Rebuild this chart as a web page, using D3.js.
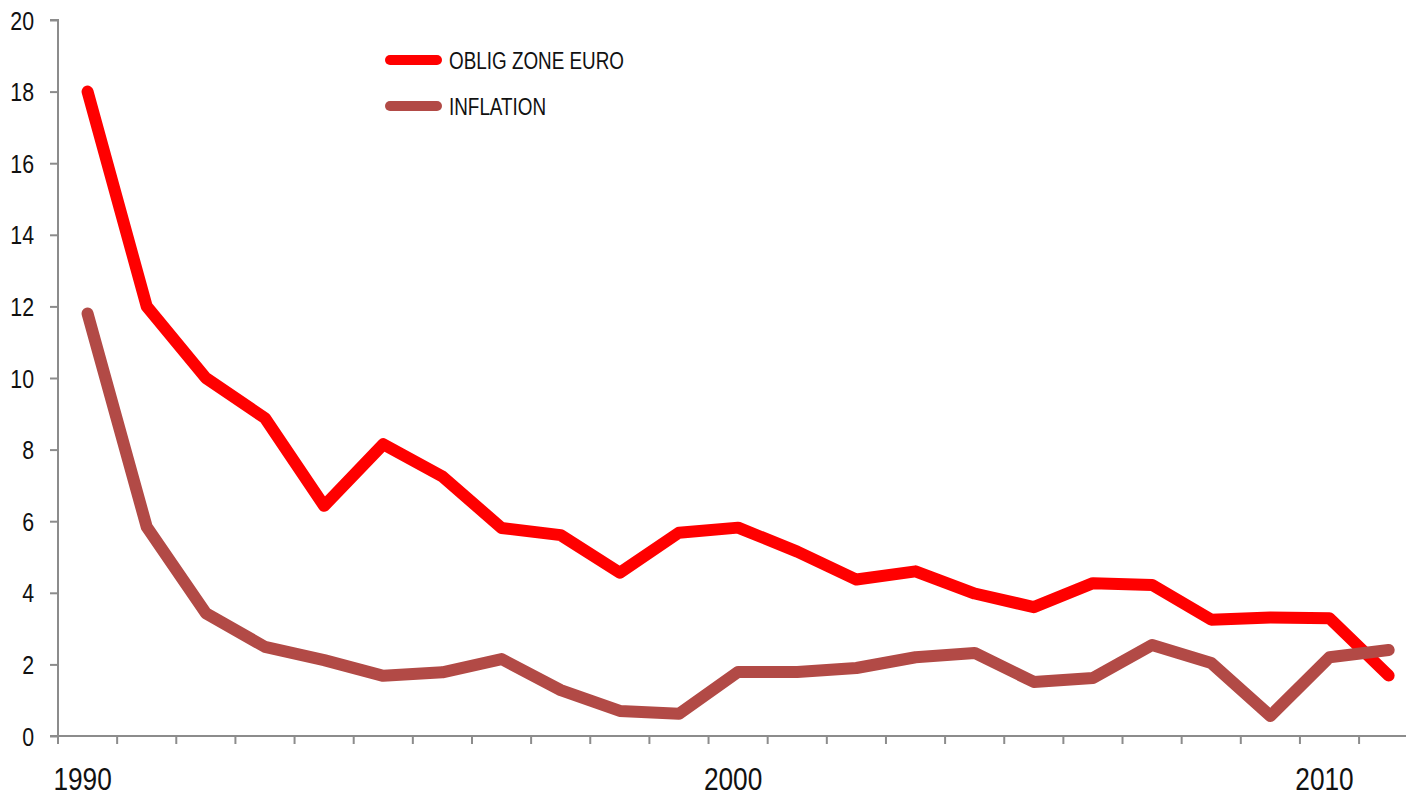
<!DOCTYPE html>
<html>
<head>
<meta charset="utf-8">
<script src="https://cdn.jsdelivr.net/npm/d3@7"></script>
<style>
  html, body { margin: 0; padding: 0; background: #fff; }
  svg { display: block; }
  text { font-family: "Liberation Sans", Arial, sans-serif; fill: #111; }
</style>
</head>
<body>
<svg id="chart" width="1406" height="796"></svg>
<script>
(function () {
// ---- data ----
const periods = d3.range(23); // 23 annual observations
const xTickLabels = ["1990","","","","","","","","","","","2000","","","","","","","","","","2010",""];
const obligZoneEuro = [18.0, 12.0, 10.0, 8.88, 6.43, 8.15, 7.25, 5.81, 5.61, 4.56, 5.68, 5.82, 5.15, 4.37, 4.6, 3.98, 3.6, 4.27, 4.22, 3.25, 3.31, 3.29, 1.69];
const inflation = [11.8, 5.84, 3.43, 2.49, 2.12, 1.68, 1.78, 2.15, 1.28, 0.7, 0.62, 1.79, 1.79, 1.9, 2.2, 2.32, 1.51, 1.62, 2.54, 2.04, 0.56, 2.2, 2.4];
const seriesNames = ["OBLIG ZONE EURO", "INFLATION"];
const seriesColors = ["#ff0000", "#b24a46"];
const yTicks = [0, 2, 4, 6, 8, 10, 12, 14, 16, 18, 20];

const W = 1406, H = 796;
const svg = d3.select("#chart");

const mLeft = 58, mTop = 20, mBottom = 736;
const step = 59.14;
const x = d3.scaleBand().domain(periods).range([mLeft, mLeft + step * periods.length]).paddingInner(0).paddingOuter(0);
const y = d3.scaleLinear().domain([0, 20]).range([mBottom, mTop]);

const axisColor = "#8c8c8c";
const narrow = 0.82; // condense Liberation Sans to mimic a narrow face
function condense(sel) {
  sel.each(function () {
    const len = this.getComputedTextLength();
    d3.select(this).attr("textLength", len * narrow).attr("lengthAdjust", "spacingAndGlyphs");
  });
}

// Y axis
const yAxis = d3.axisLeft(y).tickValues(yTicks).tickSize(8).tickPadding(16).tickFormat(d3.format("d"));
const gy = svg.append("g").attr("transform", `translate(${mLeft},0)`).call(yAxis);
gy.attr("font-family", null).attr("font-size", null);
gy.select(".domain").attr("stroke", axisColor).attr("stroke-width", 2).attr("d", `M-8,${mTop}H0V${mBottom}H-8`);
gy.selectAll(".tick line").attr("stroke", axisColor).attr("stroke-width", 2);
gy.selectAll(".tick text").attr("font-size", 26).attr("fill", "#111").attr("dy", "0.35em").call(condense);

// X axis: tick marks at category boundaries
const gx = svg.append("g");
gx.append("line").attr("x1", mLeft).attr("x2", W).attr("y1", mBottom).attr("y2", mBottom)
  .attr("stroke", axisColor).attr("stroke-width", 2);
gx.selectAll("line.tk").data(periods).join("line").attr("class", "tk")
  .attr("x1", d => x(d)).attr("x2", d => x(d))
  .attr("y1", mBottom).attr("y2", mBottom + 8)
  .attr("stroke", axisColor).attr("stroke-width", 2);
gx.selectAll("text.lbl").data(periods.filter(d => xTickLabels[d] !== "")).join("text").attr("class", "lbl")
  .attr("x", d => x(d) + x.bandwidth() / 2 - 5)
  .attr("y", 790)
  .attr("text-anchor", "middle")
  .attr("font-size", 32)
  .text(d => xTickLabels[d])
  .call(condense);

// lines
const line = d3.line().x((d, i) => x(periods[i]) + x.bandwidth() / 2).y(d => y(d));
svg.append("path").datum(obligZoneEuro).attr("d", line)
  .attr("fill", "none").attr("stroke", seriesColors[0]).attr("stroke-width", 12)
  .attr("stroke-linecap", "round").attr("stroke-linejoin", "round");
svg.append("path").datum(inflation).attr("d", line)
  .attr("fill", "none").attr("stroke", seriesColors[1]).attr("stroke-width", 12)
  .attr("stroke-linecap", "round").attr("stroke-linejoin", "round");

// legend
const lg = svg.append("g").attr("transform", "translate(390,60)");
seriesNames.forEach((name, i) => {
  const g = lg.append("g").attr("transform", `translate(0,${i * 46})`);
  g.append("line").attr("x1", 0).attr("x2", 47).attr("y1", 0).attr("y2", 0)
    .attr("stroke", seriesColors[i]).attr("stroke-width", 10).attr("stroke-linecap", "round");
  g.append("text").attr("x", 59).attr("y", 9).attr("font-size", 23).text(name).call(condense);
});
})();
</script>
</body>
</html>
